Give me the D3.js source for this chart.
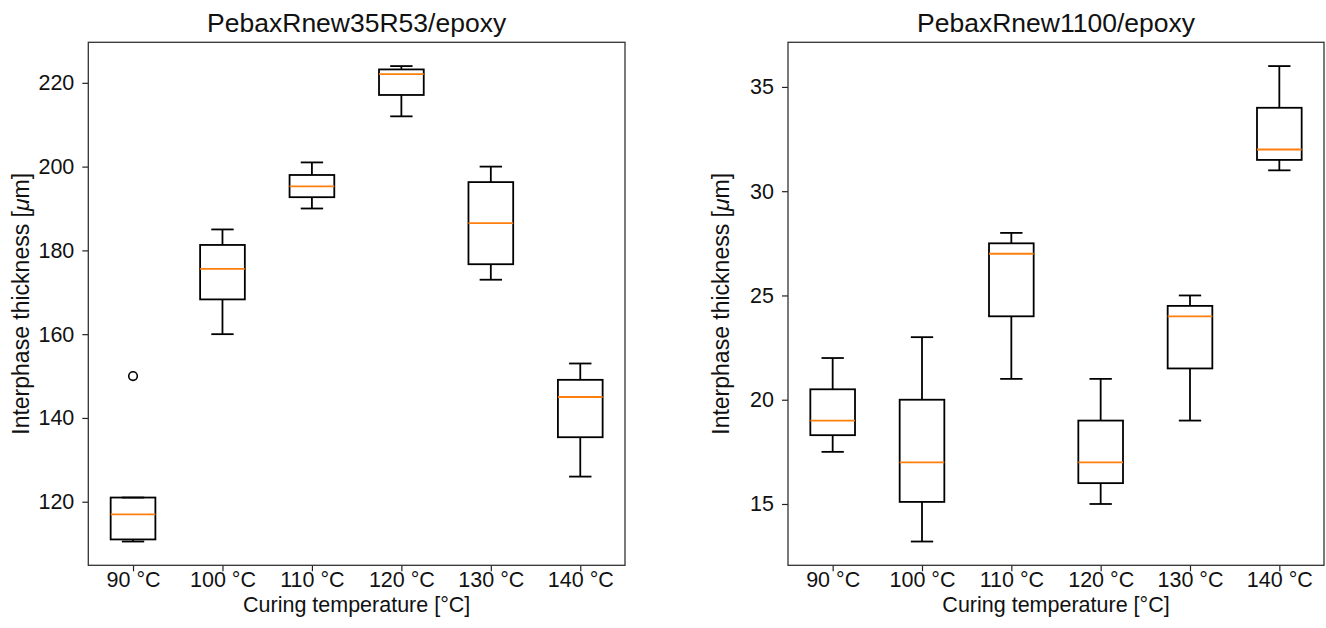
<!DOCTYPE html>
<html>
<head>
<meta charset="utf-8">
<script src="https://cdn.jsdelivr.net/npm/d3@7"></script>
<style>
  html, body { margin: 0; padding: 0; background: #fff; }
  svg { display: block; font-family: "Liberation Sans", Arial, sans-serif; }
</style>
</head>
<body>
<svg id="chart" width="1326" height="628"></svg>
<script>
// ---- data ----
const categories = ["90 °C", "100 °C", "110 °C", "120 °C", "130 °C", "140 °C"];

const leftTitle = "PebaxRnew35R53/epoxy";
const leftLow    = [110.5, 160,   190,   212,   173,   126];
const leftQ1     = [111,   168.3, 192.7, 217.1, 176.7, 135.4];
const leftMedian = [117,   175.6, 195.3, 222.1, 186.5, 145];
const leftQ3     = [121,   181.3, 198,   223.2, 196.3, 149.1];
const leftHigh   = [121,   185,   201,   224,   200,   153];
const leftOutliers = [[150], [], [], [], [], []];
const leftTicks  = [120, 140, 160, 180, 200, 220];

const rightTitle = "PebaxRnew1100/epoxy";
const rightLow    = [17.5, 13.2, 21,   15,   19,   31];
const rightQ1     = [18.3, 15.1, 24,   16,   21.5, 31.5];
const rightMedian = [19,   17,   27,   17,   24,   32];
const rightQ3     = [20.5, 20,   27.5, 19,   24.5, 34];
const rightHigh   = [22,   23,   28,   21,   25,   36];
const rightOutliers = [[], [], [], [], [], []];
const rightTicks  = [15, 20, 25, 30, 35];

const xLabel = "Curing temperature [°C]";

// ---- drawing ----
const svg = d3.select("#chart");
const plotTop = 42.3, plotBottom = 565.3;

function panel(opts) {
  const { x0, x1, title, low, q1, med, q3, high, outliers, ticks } = opts;
  const g = svg.append("g");

  const allVals = low.concat(high, outliers.flat());
  const mn = d3.min(allVals), mx = d3.max(allVals);
  const m = (mx - mn) * 0.05;
  const y = d3.scaleLinear().domain([mn - m, mx + m]).range([plotBottom, plotTop]);
  const x = d3.scalePoint().domain(categories).range([x0, x1]).padding(0.5);
  const step = x.step();
  const boxW = step * 0.5, capW = step * 0.25;

  // x axis
  const xAxis = g.append("g").attr("transform", `translate(0,${plotBottom})`)
    .call(d3.axisBottom(x).tickSize(6).tickPadding(0).tickSizeOuter(0));
  xAxis.select(".domain").remove();
  xAxis.selectAll(".tick line").attr("stroke", "#222").attr("stroke-width", 1.2);
  xAxis.selectAll(".tick text").attr("font-size", 21.5).attr("fill", "#111")
    .attr("font-family", "Liberation Sans, Arial, sans-serif");

  // y axis
  const yAxis = g.append("g").attr("transform", `translate(${x0},0)`)
    .call(d3.axisLeft(y).tickValues(ticks).tickFormat(d3.format("d")).tickSize(6).tickPadding(8).tickSizeOuter(0));
  yAxis.select(".domain").remove();
  yAxis.selectAll(".tick line").attr("stroke", "#222").attr("stroke-width", 1.2);
  yAxis.selectAll(".tick text").attr("font-size", 21.5).attr("fill", "#111")
    .attr("font-family", "Liberation Sans, Arial, sans-serif");

  // frame
  g.append("rect").attr("x", x0).attr("y", plotTop)
    .attr("width", x1 - x0).attr("height", plotBottom - plotTop)
    .attr("fill", "none").attr("stroke", "#333").attr("stroke-width", 1.3);

  const data = categories.map((c, i) => ({ c, lo: low[i], q1: q1[i], med: med[i], q3: q3[i], hi: high[i], out: outliers[i] }));
  const bx = g.selectAll("g.box").data(data).enter().append("g").attr("class", "box");
  const sw = 1.8;
  // whiskers
  bx.append("line").attr("x1", d => x(d.c)).attr("x2", d => x(d.c))
    .attr("y1", d => y(d.q3)).attr("y2", d => y(d.hi)).attr("stroke", "#000").attr("stroke-width", sw);
  bx.append("line").attr("x1", d => x(d.c)).attr("x2", d => x(d.c))
    .attr("y1", d => y(d.q1)).attr("y2", d => y(d.lo)).attr("stroke", "#000").attr("stroke-width", sw);
  // caps
  bx.append("line").attr("x1", d => x(d.c) - capW / 2).attr("x2", d => x(d.c) + capW / 2)
    .attr("y1", d => y(d.hi)).attr("y2", d => y(d.hi)).attr("stroke", "#000").attr("stroke-width", sw);
  bx.append("line").attr("x1", d => x(d.c) - capW / 2).attr("x2", d => x(d.c) + capW / 2)
    .attr("y1", d => y(d.lo)).attr("y2", d => y(d.lo)).attr("stroke", "#000").attr("stroke-width", sw);
  // box
  bx.append("rect").attr("x", d => x(d.c) - boxW / 2).attr("width", boxW)
    .attr("y", d => y(d.q3)).attr("height", d => y(d.q1) - y(d.q3))
    .attr("fill", "none").attr("stroke", "#000").attr("stroke-width", sw);
  // median
  bx.append("line").attr("x1", d => x(d.c) - boxW / 2).attr("x2", d => x(d.c) + boxW / 2)
    .attr("y1", d => y(d.med)).attr("y2", d => y(d.med)).attr("stroke", "#ff7f0e").attr("stroke-width", 1.8);
  // outliers
  bx.selectAll("circle").data(d => d.out.map(v => ({ c: d.c, v }))).enter().append("circle")
    .attr("cx", d => x(d.c)).attr("cy", d => y(d.v)).attr("r", 4.3)
    .attr("fill", "none").attr("stroke", "#000").attr("stroke-width", 1.6);

  // title
  g.append("text").attr("x", (x0 + x1) / 2).attr("y", 31.5).attr("text-anchor", "middle")
    .attr("font-size", 26.5).attr("fill", "#111").text(title);
  // x label
  g.append("text").attr("x", (x0 + x1) / 2).attr("y", 612).attr("text-anchor", "middle")
    .attr("font-size", 21.5).attr("fill", "#111").text(xLabel);
  // y label
  const yl = g.append("text")
    .attr("transform", `translate(${x0 - 59},${(plotTop + plotBottom) / 2}) rotate(-90)`)
    .attr("text-anchor", "middle").attr("font-size", 23).attr("fill", "#111");
  yl.append("tspan").text("Interphase thickness [");
  yl.append("tspan").attr("font-style", "italic").text("μ");
  yl.append("tspan").text("m]");
}

panel({ x0: 88.3, x1: 625, title: leftTitle, low: leftLow, q1: leftQ1, med: leftMedian, q3: leftQ3, high: leftHigh, outliers: leftOutliers, ticks: leftTicks });
panel({ x0: 788, x1: 1324, title: rightTitle, low: rightLow, q1: rightQ1, med: rightMedian, q3: rightQ3, high: rightHigh, outliers: rightOutliers, ticks: rightTicks });
</script>
</body>
</html>
